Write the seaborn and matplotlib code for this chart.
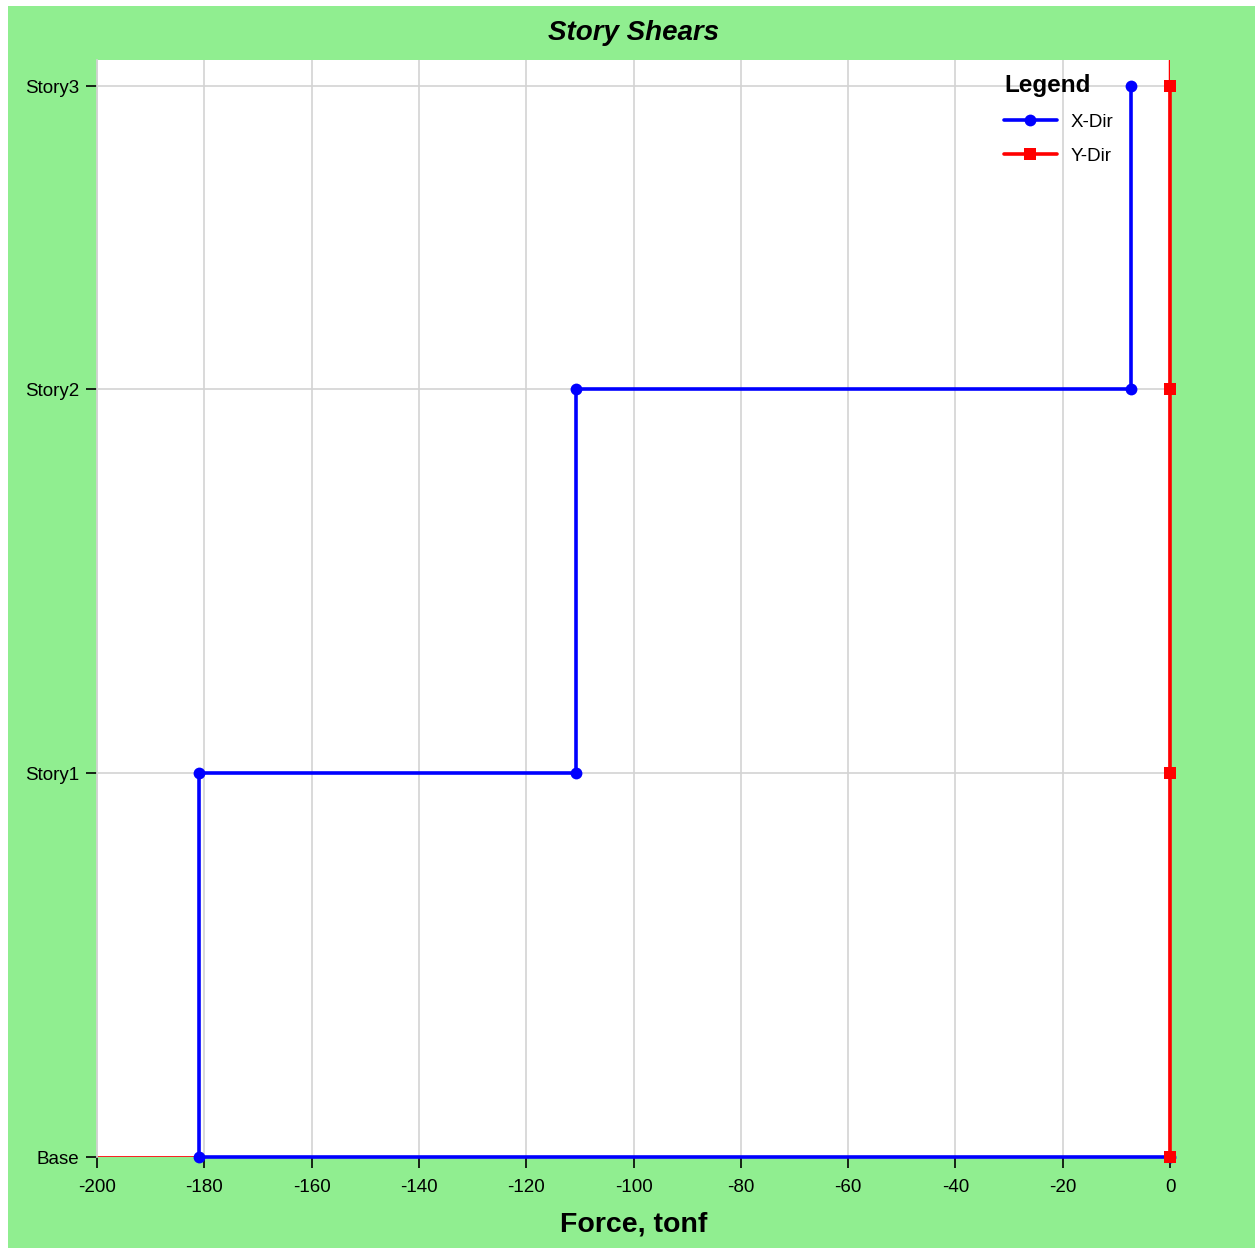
import numpy as np
import pandas as pd
import matplotlib
matplotlib.use("Agg")
import matplotlib.pyplot as plt
from matplotlib.patches import Rectangle
import seaborn as sns

# story data (elevation in m, shear in tonf)
stories = ["Base", "Story1", "Story2", "Story3"]
elevations = [0.0, 3.8, 7.6, 10.6]
shear_x = [-181.0, -110.8, -7.3]   # Story1, Story2, Story3
shear_y = [0.0, 0.0, 0.0]
x_ticks = list(range(-200, 1, 20))


def step_points(shears):
    # base point at zero, then bottom/top of each story at its shear
    xs, ys = [0.0], [elevations[0]]
    for i, v in enumerate(shears):
        xs += [v, v]
        ys += [elevations[i], elevations[i + 1]]
    return xs, ys


xs_x, ys_x = step_points(shear_x)
xs_y, ys_y = step_points(shear_y)
df = pd.concat([
    pd.DataFrame({"force": xs_x, "elev": ys_x, "dir": "X-Dir"}),
    pd.DataFrame({"force": xs_y, "elev": ys_y, "dir": "Y-Dir"}),
])

sns.set_theme(style="whitegrid")
plt.rcParams["font.family"] = ["Liberation Sans", "DejaVu Sans"]
plt.rcParams["text.color"] = "black"
plt.rcParams["xtick.color"] = "black"
plt.rcParams["ytick.color"] = "black"
plt.rcParams["axes.labelcolor"] = "black"

fig = plt.figure(figsize=(12.55, 12.48), dpi=100, facecolor="white")
fig.patches.append(Rectangle((8 / 1255, 0), 1 - 8 / 1255, 1 - 6 / 1248,
                             transform=fig.transFigure, facecolor="#90EE90",
                             edgecolor="none", zorder=-5))
ax = fig.add_axes([97 / 1255, 1 - 1157 / 1248, (1170 - 97) / 1255, (1157 - 60) / 1248])
ax.set_zorder(2)
ax.set_facecolor("white")

# reference lines of the Y-Dir axis
ax.axhline(0, color="red", lw=1.2, zorder=2)
ax.axvline(0, color="red", lw=2.5, zorder=2)

palette = {"X-Dir": "blue", "Y-Dir": "red"}
markers = {"X-Dir": "o", "Y-Dir": "s"}
for name, sub in df.groupby("dir"):
    sns.lineplot(data=sub, x="force", y="elev", sort=False, estimator=None,
                 color=palette[name], marker=markers[name], markersize=8.5,
                 markeredgewidth=0, lw=2.6, label=name, ax=ax, zorder=3,
                 clip_on=False)

ax.set_xlim(-200, 0)
ax.set_ylim(0, 10.86)
ax.set_xticks(x_ticks)
ax.set_xticklabels([str(t) for t in x_ticks], fontsize=13.5)
ax.set_yticks(elevations)
ax.set_yticklabels(stories, fontsize=13.5)
ax.tick_params(axis="both", length=8, width=1.2, color="black", direction="out",
               bottom=True, left=True)
ax.tick_params(axis="x", pad=8)
ax.tick_params(axis="y", pad=5)
ax.grid(True, color="#d3d3d3", lw=1.2)
for s in ax.spines.values():
    s.set_visible(False)
ax.spines["left"].set_visible(True)
ax.spines["left"].set_color("#d3d3d3")

ax.set_xlabel("Force, tonf", fontsize=20.5, fontweight="bold", labelpad=11)
ax.set_ylabel("")
fig.text(634 / 1255, 1 - 33 / 1248, "Story Shears", fontsize=20, fontweight="bold",
         style="italic", ha="center", va="center")

leg = ax.legend(title="Legend", loc="upper left", bbox_to_anchor=(1004 / 1255, 1 - 74 / 1248),
                bbox_transform=fig.transFigure, frameon=False, fontsize=13.5,
                handlelength=2.8, handletextpad=0.75, labelspacing=0.9,
                borderaxespad=0, borderpad=0)
leg.get_title().set_fontsize(17.5)
leg.get_title().set_fontweight("bold")
leg._legend_box.align = "left"

fig.savefig("out.png", dpi=100, facecolor=fig.get_facecolor())
